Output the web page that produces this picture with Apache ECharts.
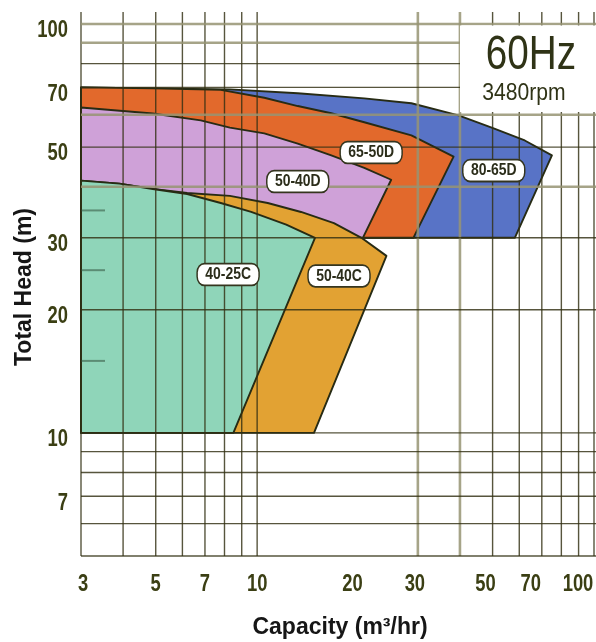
<!DOCTYPE html>
<html><head><meta charset="utf-8">
<script src="https://cdn.jsdelivr.net/npm/echarts@6/dist/echarts.min.js"></script>
<style>html,body{margin:0;padding:0;background:#fff}#c{width:596px;height:642px}</style>
</head><body><div id="c"></div>
<script>
// ---------------- data ----------------
const xTickLabels = [3, 5, 7, 10, 20, 30, 50, 70, 100];
const yTickLabels = [7, 10, 20, 30, 50, 70, 100];
const xGridValues = [3, 4, 5, 6, 7, 8, 9, 10, 30, 40, 50, 60, 70, 80, 90, 100];
const yGridValues = [5, 6, 7, 8, 9, 10, 20, 30, 40, 50, 60, 70, 80, 90, 100];
const xGridLight = [30, 40];
const yGridLight = [40, 60, 90, 100];
const yMinorMarks = [15, 25, 35];
const models = ['80-65D', '65-50D', '50-40D', '50-40C', '40-25C'];
// operating range outlines: [capacity m3/hr, total head m]
const range8065D = [[3,70],[4.9,69.6],[8.3,69.2],[13.2,67.7],[20.8,65.8],[28.7,64.0],[39.6,59.8],[49.7,55.8],[62.3,51.9],[75,47.7],[58.2,30],[3,30]];
const range6550D = [[3,70],[4.9,69.6],[7.8,69.0],[10.5,66.0],[13.2,63.0],[16.6,60.5],[20.8,57.5],[28.7,53.4],[38.3,47.4],[29.1,30],[3,30]];
const range5040D = [[3,62.5],[4.9,60.4],[6.8,58.1],[8.3,55.8],[10.5,54.0],[13.2,51.0],[16.6,47.7],[20.8,44.5],[25.0,41.6],[20.6,30],[3,30]];
const range5040C = [[3,41.4],[3.9,40.7],[4.9,39.5],[6.2,38.6],[8.3,38.0],[10.75,36.5],[13.5,34.7],[16.9,32.6],[20.4,30.0],[24.2,27.1],[14.75,10],[3,10]];
const range4025C = [[3,41.4],[3.9,40.7],[4.9,39.5],[6.2,38.4],[7.8,36.5],[9.6,34.7],[12.2,32.3],[14.85,30],[8.5,10],[3,10]];
const labelPositions = [[50.4,43.8],[21.8,48.5],[13.2,41.2],[17.5,24.2],[8.2,24.4]];

// ---------------- styles ----------------
const regionColors = ['#5873c6', '#e2692c', '#cfa1d8', '#e2a233', '#8fd5b9'];
const ranges = [range8065D, range6550D, range5040D, range5040C, range4025C];
const darkLine = 'rgba(50,48,18,0.82)';
const lightLine = 'rgba(150,148,115,0.85)';
const tickColor = '#3b3f14';
const xLabelShift = {3: 2, 20: -6, 30: -3, 50: -7, 70: -11, 100: -16};
const numFont = 'bold 23px "Liberation Sans", Arial, sans-serif';

const chart = echarts.init(document.getElementById('c'));

const series = [];
ranges.forEach((pts, i) => {
  series.push({
    type: 'custom', name: models[i], coordinateSystem: 'cartesian2d', z: 2, silent: true,
    data: pts,
    renderItem: (params, api) => {
      if (params.dataIndex !== 0) return null;
      return {
        type: 'polygon',
        shape: { points: pts.map(p => api.coord(p)) },
        style: { fill: regionColors[i], stroke: '#272b14', lineWidth: 1.9, lineJoin: 'round' }
      };
    }
  });
});

// vertical grid lines
series.push({
  type: 'custom', coordinateSystem: 'cartesian2d', z: 3, silent: true,
  data: xGridValues.map(v => [v, 5]),
  renderItem: (params, api) => {
    const v = xGridValues[params.dataIndex];
    const top = api.coord([v, 100]);
    const bot = api.coord([v, 5]);
    const light = xGridLight.indexOf(v) >= 0;
    return { type: 'line', shape: { x1: top[0], y1: top[1] - 12, x2: bot[0], y2: bot[1] },
      style: { stroke: light ? lightLine : darkLine, lineWidth: light ? 2.6 : 1.4 } };
  }
});
// horizontal grid lines
series.push({
  type: 'custom', coordinateSystem: 'cartesian2d', z: 3, silent: true,
  data: yGridValues.map(v => [3, v]),
  renderItem: (params, api) => {
    const v = yGridValues[params.dataIndex];
    const l = api.coord([3, v]);
    const r = api.coord([100, v]);
    const light = yGridLight.indexOf(v) >= 0;
    return { type: 'line', shape: { x1: l[0], y1: l[1], x2: r[0] + 2, y2: r[1] },
      style: { stroke: light ? lightLine : darkLine, lineWidth: light ? 2.6 : 1.4 } };
  }
});
// short minor marks on the left
series.push({
  type: 'custom', coordinateSystem: 'cartesian2d', z: 3, silent: true,
  data: yMinorMarks.map(v => [3, v]),
  renderItem: (params, api) => {
    const p = api.coord([3, yMinorMarks[params.dataIndex]]);
    return { type: 'line', shape: { x1: p[0], y1: p[1], x2: p[0] + 24, y2: p[1] },
      style: { stroke: 'rgba(50,80,60,0.55)', lineWidth: 2 } };
  }
});
// x tick labels
series.push({
  type: 'custom', coordinateSystem: 'cartesian2d', z: 4, silent: true, clip: false,
  data: xTickLabels.map(v => [v, 5]),
  renderItem: (params, api) => {
    const v = xTickLabels[params.dataIndex];
    const p = api.coord([v, 5]);
    return { type: 'text', x: p[0] + (xLabelShift[v] || 0), y: p[1] + 29, scaleX: 0.8,
      style: { text: String(v), font: numFont, fill: tickColor, align: 'center', verticalAlign: 'middle' } };
  }
});
// y tick labels
series.push({
  type: 'custom', coordinateSystem: 'cartesian2d', z: 4, silent: true, clip: false,
  data: yTickLabels.map(v => [3, v]),
  renderItem: (params, api) => {
    const v = yTickLabels[params.dataIndex];
    const p = api.coord([3, v]);
    return { type: 'text', x: p[0] - 13, y: p[1] + 7, scaleX: 0.8,
      style: { text: String(v), font: numFont, fill: tickColor, align: 'right', verticalAlign: 'middle' } };
  }
});
// model labels
series.push({
  type: 'custom', coordinateSystem: 'cartesian2d', z: 5, silent: true,
  data: labelPositions,
  renderItem: (params, api) => {
    const p = api.coord(labelPositions[params.dataIndex]);
    return { type: 'text', x: p[0], y: p[1], scaleX: 0.82,
      style: { text: models[params.dataIndex], font: 'bold 17px "Liberation Sans", Arial, sans-serif',
        fill: '#2b2d1a', align: 'center', verticalAlign: 'middle', lineHeight: 16,
        backgroundColor: '#fff', borderColor: '#34351f', borderWidth: 1.8, borderRadius: 8,
        padding: [2, 9, 2, 9] } };
  }
});

chart.setOption({
  animation: false,
  backgroundColor: '#fff',
  grid: { left: 81, right: 2, top: 24, bottom: 86 },
  xAxis: { type: 'log', logBase: 10, min: 3, max: 100,
    axisLine: { show: false }, axisTick: { show: false }, axisLabel: { show: false }, splitLine: { show: false } },
  yAxis: { type: 'log', logBase: 10, min: 5, max: 100,
    axisLine: { show: false }, axisTick: { show: false }, axisLabel: { show: false }, splitLine: { show: false } },
  graphic: { elements: [
    { type: 'rect', z: 20, shape: { x: 460, y: 25.5, width: 140, height: 86.5 }, style: { fill: '#fff' } },
    { type: 'text', z: 21, x: 531, y: 55, scaleX: 0.79,
      style: { text: '60Hz', font: '49px "Liberation Sans", Arial, sans-serif', fill: '#2f3316', align: 'center', verticalAlign: 'middle' } },
    { type: 'text', z: 21, x: 524, y: 93, scaleX: 0.88,
      style: { text: '3480rpm', font: '24px "Liberation Sans", Arial, sans-serif', fill: '#2f3316', align: 'center', verticalAlign: 'middle' } },
    { type: 'text', z: 21, x: 25, y: 287, rotation: Math.PI / 2,
      style: { text: 'Total Head (m)', font: 'bold 23px "Liberation Sans", Arial, sans-serif', fill: '#161616', align: 'center', verticalAlign: 'middle' } },
    { type: 'text', z: 21, x: 340, y: 628,
      style: { text: 'Capacity (m³/hr)', font: 'bold 23px "Liberation Sans", Arial, sans-serif', fill: '#161616', align: 'center', verticalAlign: 'middle' } }
  ] },
  series: series
});
</script></body></html>
